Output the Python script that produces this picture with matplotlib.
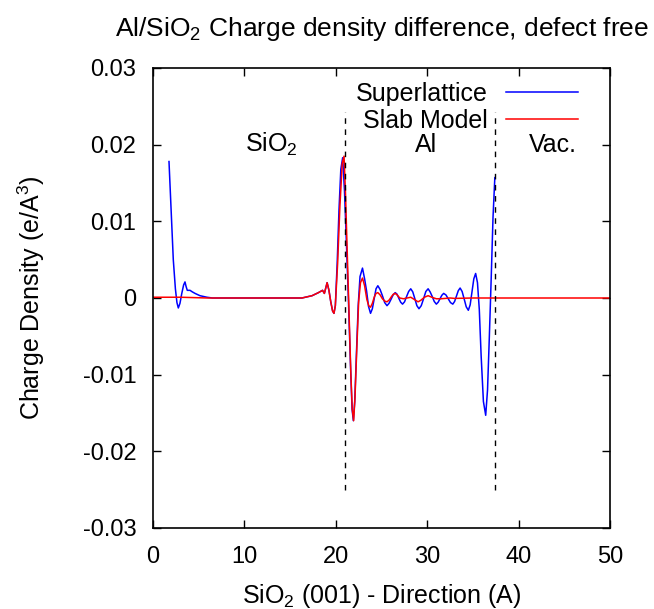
import numpy as np
import matplotlib
matplotlib.use("Agg")
import matplotlib.pyplot as plt

plt.rcParams['font.family'] = ['Liberation Sans', 'DejaVu Sans']
plt.rcParams['mathtext.fontset'] = 'custom'
plt.rcParams['mathtext.rm'] = 'Liberation Sans'
plt.rcParams['mathtext.it'] = 'Liberation Sans:italic'

# charge density values, in units of 1e-3 e/A^3
super_x = [1.75, 2.0, 2.22, 2.45, 2.62, 2.77, 2.95, 3.15, 3.35, 3.5, 3.62, 3.75, 4.05, 4.3, 4.6,
           5.14, 5.9, 6.5, 10.0, 16.3, 17.4, 18.1, 18.55, 18.75, 18.9, 19.05, 19.25, 19.45, 19.65,
           19.8, 19.95, 20.15, 20.35, 20.55, 20.75, 20.95, 21.15, 21.37, 21.6, 21.78, 21.92, 22.07,
           22.25, 22.45, 22.65, 22.92, 23.15, 23.37, 23.58, 23.8, 24.0, 24.2, 24.4, 24.6, 24.85,
           25.1, 25.35, 25.6, 25.82, 26.05, 26.27, 26.5, 26.7, 26.9, 27.1, 27.3, 27.52, 27.75,
           27.97, 28.2, 28.42, 28.65, 28.87, 29.1, 29.35, 29.6, 29.85, 30.1, 30.32, 30.55, 30.77,
           31.0, 31.2, 31.4, 31.6, 31.8, 32.05, 32.3, 32.55, 32.8, 33.0, 33.2, 33.4, 33.6, 33.82,
           34.05, 34.27, 34.5, 34.7, 34.9, 35.1, 35.3, 35.5, 35.7, 35.9, 36.15, 36.4, 36.6, 36.8,
           37.0, 37.2, 37.4]
super_y = [17.8, 11.0, 5.0, 1.2, -0.6, -1.3, -0.7, 0.6, 1.7, 2.1, 1.5, 1.0, 1.0, 0.8, 0.6,
           0.3, 0.1, 0.0, 0.0, 0.0, 0.3, 0.7, 1.0, 0.6, 1.3, 2.0, 1.0, -0.5, -1.7,
           -2.0, -1.0, 4.5, 11.5, 16.8, 18.3, 14.0, 7.5, 0.2, -8.5, -14.5, -16.0, -13.5,
           -7.5, -1.0, 2.8, 3.9, 2.5, 0.9, -1.1, -2.0, -1.4, -0.1, 1.2, 1.6, 1.1,
           0.3, -0.6, -1.0, -0.7, -0.15, 0.4, 0.7, 0.5, -0.05, -0.55, -0.8, -0.5, 0.2,
           0.85, 1.2, 0.8, -0.1, -1.0, -1.4, -1.0, -0.1, 0.85, 1.2, 0.8, 0.2, -0.45,
           -0.8, -0.55, -0.1, 0.35, 0.6, 0.4, -0.1, -0.6, -0.8, -0.45, 0.25, 0.95, 1.3, 0.85,
           -0.15, -1.15, -1.6, -0.9, 0.8, 2.5, 3.2, 2.0, -1.5, -7.5, -13.5, -15.3, -12.0, -5.0,
           2.5, 10.5, 15.7]

slab_x = [0.0, 3.0, 6.0, 16.3, 17.4, 18.1, 18.55, 18.75, 18.9, 19.05, 19.25, 19.45, 19.65,
          19.8, 19.95, 20.2, 20.45, 20.7, 20.9, 21.05, 21.25, 21.45, 21.65, 21.8, 21.95, 22.1,
          22.3, 22.5, 22.7, 22.92, 23.15, 23.4, 23.6, 23.8, 24.0, 24.2, 24.4, 24.6, 24.85,
          25.1, 25.35, 25.6, 25.85, 26.1, 26.3, 26.5, 26.75, 27.0, 27.4, 27.8, 28.2, 28.6,
          29.0, 29.3, 29.7, 30.1, 30.5, 31.0, 31.5, 32.5, 33.0, 35.0, 50.0]
slab_y = [0.1, 0.1, 0.0, 0.0, 0.3, 0.7, 1.0, 0.6, 1.3, 2.0, 1.0, -0.5, -1.7,
          -2.0, -1.0, 4.5, 12.0, 17.5, 18.5, 14.0, 6.0, -2.0, -10.0, -14.5, -16.0, -13.0,
          -6.5, -0.5, 2.0, 2.6, 1.6, -0.2, -1.0, -1.2, -0.7, 0.1, 0.6, 0.7, 0.4,
          -0.1, -0.4, -0.5, -0.25, 0.2, 0.5, 0.6, 0.35, 0.0, -0.1, 0.0, 0.1, -0.2,
          -0.5, -0.3, 0.1, 0.3, 0.1, -0.1, -0.1, 0.0, -0.05, 0.0, 0.0]

interfaces = [21.0, 37.45]
regions = ["SiO$_2$", "Al", "Vac."]
region_x = [13.0, 29.9, 43.8]
region_y = [0.0200, 0.0200, 0.0200]

xticks = [0, 10, 20, 30, 40, 50]
yticks = [0.03, 0.02, 0.01, 0.0, -0.01, -0.02, -0.03]
ylabels = ["0.03", "0.02", "0.01", "0", "-0.01", "-0.02", "-0.03"]

fig = plt.figure(figsize=(6.54, 6.09), dpi=100)
ax = fig.add_axes([153/654, 81/609, 457/654, 460/609])

ax.plot(super_x, np.array(super_y) * 1e-3, color='#0000ff', lw=1.1, label='Superlattice')
ax.plot(slab_x, np.array(slab_y) * 1e-3, color='#ff0000', lw=1.1, label='Slab Model')
ax.vlines(interfaces, -0.025, 0.0243, colors='black', linestyles=(0, (4, 4)), lw=1.0)

for name, tx, ty in zip(regions, region_x, region_y):
    ax.text(tx, ty, name, fontsize=18, ha='center', va='center')

ax.set_xlim(0, 50)
ax.set_ylim(-0.03, 0.03)
ax.set_xticks(xticks)
ax.set_yticks(yticks)
ax.set_yticklabels(ylabels)
ax.tick_params(direction='in', length=6, width=1, top=True, right=True, labelsize=17)
ax.tick_params(axis='y', pad=12)
ax.tick_params(axis='x', pad=13)
for s in ax.spines.values():
    s.set_linewidth(1.2)

ax.set_xlabel("SiO$_2$ (001) - Direction (A)", fontsize=18, labelpad=10)
ax.set_ylabel("Charge Density (e/A$^3$)", fontsize=18, labelpad=26)
ax.set_title("Al/SiO$_2$ Charge density difference, defect free", fontsize=19, pad=23)

ax.legend(loc='upper right', bbox_to_anchor=(0.952, 0.992), borderaxespad=0, frameon=False,
          markerfirst=False, fontsize=18, handlelength=2.9, handletextpad=0.72, labelspacing=0.12)

fig.savefig("out.png", dpi=100)
